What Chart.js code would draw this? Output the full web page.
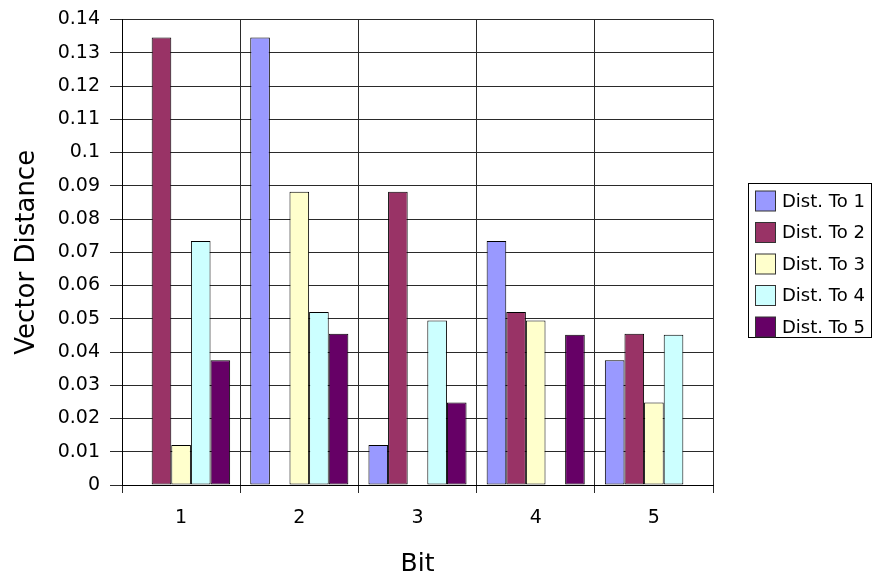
<!DOCTYPE html>
<html>
<head>
<meta charset="utf-8">
<script src="https://cdn.jsdelivr.net/npm/chart.js@4"></script>
<style>
  body { margin: 0; background: #fff; }
  #wrap { width: 873px; height: 582px; }
</style>
</head>
<body>
<div id="wrap"><canvas id="myChart" width="873" height="582"></canvas></div>
<script>
const bits = ['1', '2', '3', '4', '5'];
const seriesNames = ['Dist. To 1', 'Dist. To 2', 'Dist. To 3', 'Dist. To 4', 'Dist. To 5'];
const distTo1 = [0, 0.1346, 0.012, 0.0734, 0.0375];
const distTo2 = [0.1346, 0, 0.0882, 0.052, 0.0455];
const distTo3 = [0.012, 0.0882, 0, 0.0495, 0.0248];
const distTo4 = [0.0734, 0.052, 0.0495, 0, 0.0452];
const distTo5 = [0.0375, 0.0455, 0.0248, 0.0452, 0];
const colors = ['#9999ff', '#993366', '#ffffcc', '#ccffff', '#660066'];

const FONT = "'DejaVu Sans', sans-serif";
const allSeries = [distTo1, distTo2, distTo3, distTo4, distTo5];

// legend drawn by hand so it gets the boxed look
const boxLegend = {
    id: 'boxLegend',
    afterDraw(chart) {
        const ctx = chart.ctx;
        ctx.save();
        ctx.strokeStyle = '#000';
        ctx.lineWidth = 1;
        ctx.strokeRect(748.5, 183.5, 123, 154);
        ctx.font = '18px ' + FONT;
        ctx.textBaseline = 'middle';
        seriesNames.forEach((name, i) => {
            const y = 201 + i * 31.5;
            ctx.fillStyle = colors[i];
            ctx.fillRect(755.5, y - 10, 20, 20);
            ctx.strokeStyle = '#333';
            ctx.strokeRect(755.5, y - 10, 20, 20);
            ctx.fillStyle = '#000';
            ctx.fillText(name, 782, y + 1);
        });
        ctx.restore();
    }
};

const ctx = document.getElementById('myChart').getContext('2d');
const myChart = new Chart(ctx, {
    type: 'bar',
    data: {
        labels: bits,
        datasets: allSeries.map((vals, i) => ({
            label: seriesNames[i],
            data: vals,
            backgroundColor: colors[i],
            borderColor: '#000',
            borderWidth: 1,
            borderSkipped: false,
            categoryPercentage: 0.83,
            barPercentage: 1
        }))
    },
    options: {
        responsive: false,
        animation: false,
        layout: { padding: { top: 18, right: 160, left: 0, bottom: 0 } },
        plugins: {
            legend: { display: false },
            tooltip: { enabled: false }
        },
        scales: {
            x: {
                grid: { color: '#2a2a2a', lineWidth: 1, tickLength: 8, offset: true },
                border: { color: '#000', width: 1 },
                ticks: { color: '#000', font: { family: FONT, size: 19 }, padding: 14 },
                title: {
                    display: true,
                    text: 'Bit',
                    color: '#000',
                    font: { family: FONT, size: 25 },
                    padding: { top: 0, bottom: 3 }
                },
                afterFit: s => { s.height = 97; }
            },
            y: {
                min: 0,
                max: 0.14,
                ticks: {
                    stepSize: 0.01,
                    color: '#000',
                    font: { family: FONT, size: 19, lineHeight: 1 },
                    padding: 10,
                    callback: v => +v.toFixed(2)
                },
                grid: { color: '#2a2a2a', lineWidth: 1, tickLength: 12 },
                border: { color: '#000', width: 1 },
                title: {
                    display: true,
                    text: 'Vector Distance',
                    color: '#000',
                    font: { family: FONT, size: 26 },
                    padding: { top: 12, bottom: 0 }
                },
                afterFit: s => { s.width = 122; }
            }
        }
    },
    plugins: [boxLegend]
});
</script>
</body>
</html>
